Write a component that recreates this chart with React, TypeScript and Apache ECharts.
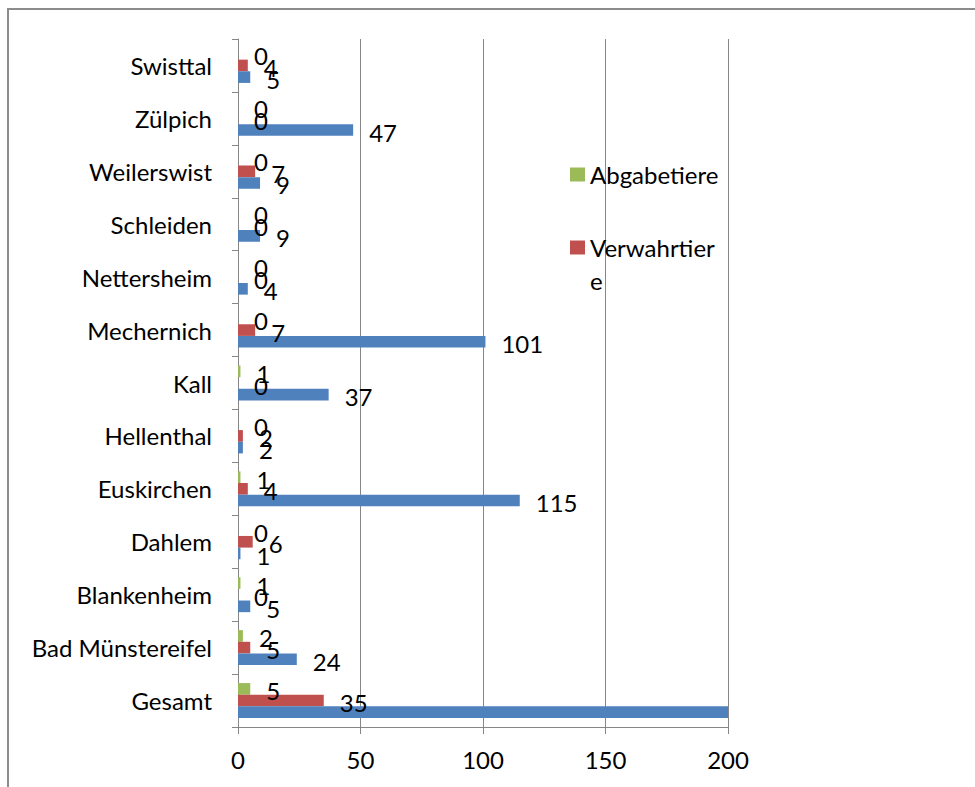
import React, { useEffect, useRef } from "react";
import * as echarts from "echarts";

const categories = [
  "Gesamt",
  "Bad Münstereifel",
  "Blankenheim",
  "Dahlem",
  "Euskirchen",
  "Hellenthal",
  "Kall",
  "Mechernich",
  "Nettersheim",
  "Schleiden",
  "Weilerswist",
  "Zülpich",
  "Swisttal",
];
const fundtiere = [359, 24, 5, 1, 115, 2, 37, 101, 4, 9, 9, 47, 5];
const verwahrtiere = [35, 5, 0, 6, 4, 2, 0, 7, 0, 0, 7, 0, 4];
const abgabetiere = [5, 2, 1, 0, 1, 0, 1, 0, 0, 0, 0, 0, 0];
const xTicks = [0, 50, 100, 150, 200];

const FONT = "Lato, 'Noto Sans', sans-serif";
const FS = 24;

export default function App() {
  const ref = useRef<HTMLDivElement>(null);
  useEffect(() => {
    if (!ref.current) return;
    const chart = echarts.init(ref.current, null, { renderer: "svg" });
    const label = {
      show: true,
      position: "right" as const,
      distance: 16,
      offset: [0, 2],
      color: "#000",
      fontFamily: FONT,
      fontSize: FS,
    };
    chart.setOption({
      animation: false,
      backgroundColor: "#fff",
      textStyle: { fontFamily: FONT },
      graphic: [
        {
          type: "rect",
          shape: { x: 8, y: 9, width: 1200, height: 1200 },
          style: { fill: "none", stroke: "#8c8c8c", lineWidth: 2 },
          silent: true,
        },
      ],
      grid: { left: 238, right: 247, top: 39, bottom: 60, containLabel: false },
      legend: {
        orient: "vertical",
        left: 570,
        top: 158,
        padding: 0,
        itemGap: 7,
        itemWidth: 15,
        itemHeight: 14,
        icon: "rect",
        textStyle: { fontFamily: FONT, fontSize: FS, color: "#000", lineHeight: 33 },
        data: [{ name: "Abgabetiere" }, { name: "Verwahrtiere" }],
        formatter: (n: string) =>
          n === "Verwahrtiere" ? " \nVerwahrtier\ne" : n,
      },
      xAxis: {
        type: "value",
        min: xTicks[0],
        max: xTicks[xTicks.length - 1],
        interval: 50,
        axisLine: { show: true, lineStyle: { color: "#868686", width: 1 } },
        axisTick: { show: true, length: 7, lineStyle: { color: "#868686" } },
        splitLine: { show: true, lineStyle: { color: "#868686", width: 1 } },
        axisLabel: { color: "#000", fontFamily: FONT, fontSize: FS, margin: 20 },
      },
      yAxis: {
        type: "category",
        data: categories,
        axisLine: { show: true, lineStyle: { color: "#868686", width: 1 } },
        axisTick: { show: true, length: 6, lineStyle: { color: "#868686" } },
        splitLine: { show: false },
        axisLabel: { color: "#000", fontFamily: FONT, fontSize: FS, margin: 26 },
      },
      series: [
        {
          name: "Abgabetiere",
          type: "bar",
          data: abgabetiere,
          itemStyle: { color: "#9BBB59" },
          barGap: "0%",
          barCategoryGap: "34%",
          label,
        },
        {
          name: "Verwahrtiere",
          type: "bar",
          data: verwahrtiere,
          itemStyle: { color: "#C0504D" },
          barGap: "0%",
          barCategoryGap: "34%",
          label,
        },
        {
          name: "Fundtiere",
          type: "bar",
          data: fundtiere.map((v) =>
            v > 200 ? { value: v, label: { show: false } } : v
          ),
          itemStyle: { color: "#4F81BD" },
          barGap: "0%",
          barCategoryGap: "34%",
          clip: true,
          label,
        },
      ],
    });
    return () => chart.dispose();
  }, []);
  return (
    <div
      ref={ref}
      style={{ position: "fixed", left: 0, top: 0, width: 975, height: 787 }}
    />
  );
}
